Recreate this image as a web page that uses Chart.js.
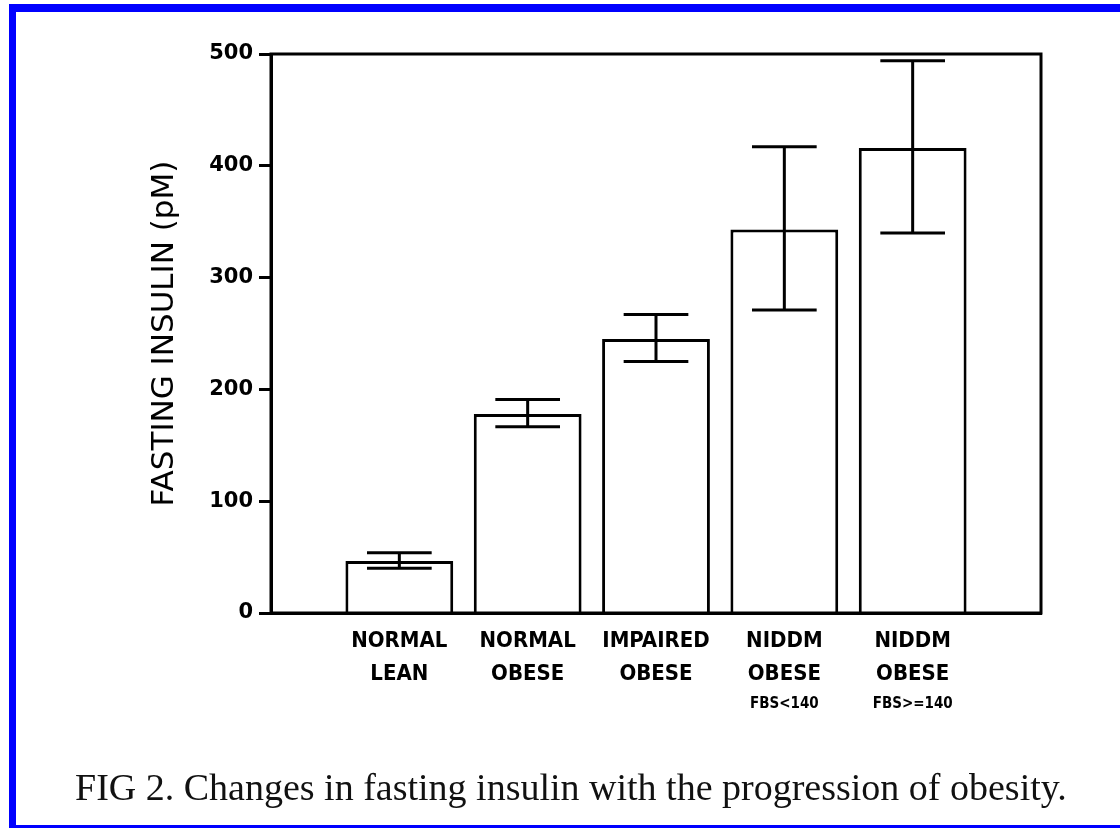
<!DOCTYPE html>
<html>
<head>
<meta charset="utf-8">
<script src="https://cdn.jsdelivr.net/npm/chart.js@4"></script>
<style>
  html, body { margin: 0; padding: 0; background: #fff; width: 1120px; height: 828px; overflow: hidden; }
  #frame {
    position: absolute; left: 9px; top: 4px; width: 1200px; height: 813px;
    border-top: 8px solid #0000ff; border-left: 7px solid #0000ff; border-bottom: 3px solid #0000ff;
  }
  #caption {
    position: absolute; left: 75px; top: 765px;
    font-family: "Liberation Serif", "Times New Roman", serif; font-size: 38px; color: #111;
    white-space: nowrap;
  }
  canvas { position: absolute; left: 0; top: 0; }
</style>
</head>
<body>
<div id="frame"></div>
<canvas id="insulinChart" width="1120" height="828"></canvas>
<div id="caption">FIG 2. Changes in fasting insulin with the progression of obesity.</div>
<script>
const groupLine1 = ['NORMAL', 'NORMAL', 'IMPAIRED', 'NIDDM', 'NIDDM'];
const groupLine2 = ['LEAN', 'OBESE', 'OBESE', 'OBESE', 'OBESE'];
const groupLine3 = ['', '', '', 'FBS<140', 'FBS>=140'];
const insulinMean = [46.5, 178, 245, 343, 416];
const errUpper = [54, 191, 267, 417, 494];
const errLower = [40, 166.5, 225, 271, 340];
const yTicks = [0, 100, 200, 300, 400, 500];

// empty slot at each end so the bars sit where they do in the figure
const labels = ['', ...groupLine1, ''];
const values = [null, ...insulinMean, null];

const labelFont = '"DejaVu Sans Condensed", "Liberation Sans Narrow", "DejaVu Sans", sans-serif';

const errorBars = {
  id: 'errorBars',
  afterDatasetsDraw(chart) {
    const ctx = chart.ctx;
    const y = chart.scales.y;
    const meta = chart.getDatasetMeta(0);
    ctx.save();
    ctx.strokeStyle = '#000';
    ctx.lineWidth = 3;
    insulinMean.forEach((v, i) => {
      const bar = meta.data[i + 1];
      const half = bar.width * 0.3;
      const yHi = y.getPixelForValue(errUpper[i]);
      const yLo = y.getPixelForValue(errLower[i]);
      ctx.beginPath();
      ctx.moveTo(bar.x, yLo); ctx.lineTo(bar.x, yHi);
      ctx.moveTo(bar.x - half, yHi); ctx.lineTo(bar.x + half, yHi);
      ctx.moveTo(bar.x - half, yLo); ctx.lineTo(bar.x + half, yLo);
      ctx.stroke();
    });
    // box around the plot
    const a = chart.chartArea;
    ctx.strokeRect(a.left, a.top, a.right - a.left, a.bottom - a.top);
    ctx.restore();
  }
};

const groupLabels = {
  id: 'groupLabels',
  afterDraw(chart) {
    const ctx = chart.ctx;
    const x = chart.scales.x;
    const base = chart.chartArea.bottom;
    ctx.save();
    ctx.fillStyle = '#000';
    ctx.textAlign = 'center';
    ctx.textBaseline = 'middle';
    groupLine1.forEach((t, i) => {
      const px = x.getPixelForValue(i + 1);
      ctx.font = 'bold 22px ' + labelFont;
      ctx.fillText(t, px, base + 28);
      ctx.fillText(groupLine2[i], px, base + 61);
      ctx.font = 'bold 15px ' + labelFont;
      ctx.fillText(groupLine3[i], px, base + 91);
    });
    ctx.restore();
  }
};

new Chart(document.getElementById('insulinChart'), {
  type: 'bar',
  data: {
    labels,
    datasets: [{
      data: values,
      backgroundColor: '#fff',
      borderColor: '#000',
      borderWidth: 3,
      categoryPercentage: 1,
      barPercentage: 0.84
    }]
  },
  options: {
    responsive: false,
    animation: false,
    devicePixelRatio: 1,
    layout: { padding: { left: 146, right: 79, top: 54, bottom: 0 } },
    plugins: { legend: { display: false }, tooltip: { enabled: false } },
    scales: {
      x: {
        offset: false,
        grid: { display: false },
        border: { display: true, color: '#000', width: 3 },
        ticks: { display: false },
        afterFit(s) { s.height = 215; }
      },
      y: {
        min: 0,
        max: 500,
        afterBuildTicks(s) { s.ticks = yTicks.map(v => ({ value: v })); },
        grid: { drawOnChartArea: false, color: '#000', tickLength: 12, tickWidth: 3 },
        border: { display: true, color: '#000', width: 3 },
        ticks: {
          color: '#000',
          padding: 6,
          font: { family: '"DejaVu Sans", sans-serif', size: 21, weight: 'bold' }
        },
        title: {
          display: true,
          text: 'FASTING INSULIN (pM)',
          color: '#000',
          padding: 0,
          font: { family: '"DejaVu Sans", sans-serif', size: 31 }
        },
        afterFit(s) { s.width = 125; }
      }
    }
  },
  plugins: [errorBars, groupLabels]
});
</script>
</body>
</html>
